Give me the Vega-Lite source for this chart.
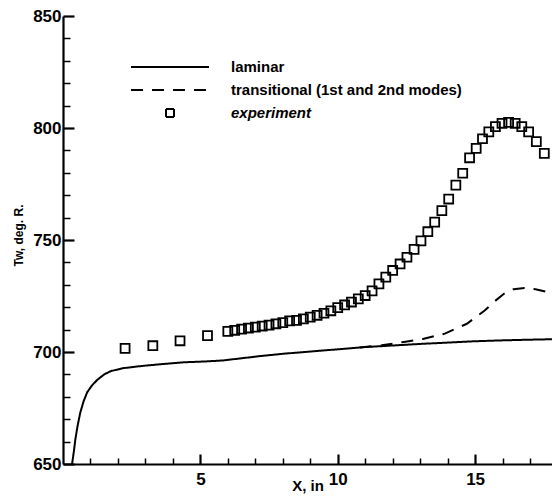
{
  "$schema": "https://vega.github.io/schema/vega-lite/v6.json",
  "width": 489,
  "height": 448,
  "autosize": {"type": "none"},
  "padding": {"left": 63, "top": 16, "right": 0, "bottom": 33},
  "background": "white",
  "config": {"view": {"stroke": null}, "font": "Liberation Sans"},
  "datasets": {
    "lines": [
      {"x": 0.33, "T": 650, "series": "laminar"},
      {"x": 0.4, "T": 656, "series": "laminar"},
      {"x": 0.45, "T": 661, "series": "laminar"},
      {"x": 0.53, "T": 667, "series": "laminar"},
      {"x": 0.63, "T": 673, "series": "laminar"},
      {"x": 0.75, "T": 678, "series": "laminar"},
      {"x": 0.88, "T": 682, "series": "laminar"},
      {"x": 1.05, "T": 685, "series": "laminar"},
      {"x": 1.24, "T": 687.5, "series": "laminar"},
      {"x": 1.5, "T": 690, "series": "laminar"},
      {"x": 1.75, "T": 691.5, "series": "laminar"},
      {"x": 2.2, "T": 692.8, "series": "laminar"},
      {"x": 2.9, "T": 693.8, "series": "laminar"},
      {"x": 3.6, "T": 694.6, "series": "laminar"},
      {"x": 4.4, "T": 695.4, "series": "laminar"},
      {"x": 5.2, "T": 695.8, "series": "laminar"},
      {"x": 5.8, "T": 696.2, "series": "laminar"},
      {"x": 6.5, "T": 697.2, "series": "laminar"},
      {"x": 7.2, "T": 698.2, "series": "laminar"},
      {"x": 8.0, "T": 699.2, "series": "laminar"},
      {"x": 9.0, "T": 700.2, "series": "laminar"},
      {"x": 10.0, "T": 701.2, "series": "laminar"},
      {"x": 11.0, "T": 702.2, "series": "laminar"},
      {"x": 12.0, "T": 702.9, "series": "laminar"},
      {"x": 13.0, "T": 703.6, "series": "laminar"},
      {"x": 14.0, "T": 704.2, "series": "laminar"},
      {"x": 15.0, "T": 704.8, "series": "laminar"},
      {"x": 16.0, "T": 705.2, "series": "laminar"},
      {"x": 17.0, "T": 705.5, "series": "laminar"},
      {"x": 17.8, "T": 705.7, "series": "laminar"},
      {"x": 10.8, "T": 702.0, "series": "transitional (1st and 2nd modes)"},
      {"x": 11.6, "T": 703.0, "series": "transitional (1st and 2nd modes)"},
      {"x": 12.35, "T": 704.4, "series": "transitional (1st and 2nd modes)"},
      {"x": 13.1, "T": 705.8, "series": "transitional (1st and 2nd modes)"},
      {"x": 13.9, "T": 708.2, "series": "transitional (1st and 2nd modes)"},
      {"x": 14.7, "T": 712.6, "series": "transitional (1st and 2nd modes)"},
      {"x": 15.35, "T": 718.5, "series": "transitional (1st and 2nd modes)"},
      {"x": 15.7, "T": 722.5, "series": "transitional (1st and 2nd modes)"},
      {"x": 16.05, "T": 726.0, "series": "transitional (1st and 2nd modes)"},
      {"x": 16.4, "T": 728.0, "series": "transitional (1st and 2nd modes)"},
      {"x": 16.8, "T": 728.6, "series": "transitional (1st and 2nd modes)"},
      {"x": 17.2, "T": 728.0, "series": "transitional (1st and 2nd modes)"},
      {"x": 17.8, "T": 726.3, "series": "transitional (1st and 2nd modes)"}
    ],
    "exp": [
      {"x": 2.26, "T": 701.6}, {"x": 3.27, "T": 702.8}, {"x": 4.26, "T": 705.0}, {"x": 5.26, "T": 707.3},
      {"x": 6.0, "T": 709.2}, {"x": 6.25, "T": 709.7}, {"x": 6.5, "T": 710.2}, {"x": 6.75, "T": 710.7},
      {"x": 7.0, "T": 711.1}, {"x": 7.25, "T": 711.6}, {"x": 7.5, "T": 712.0}, {"x": 7.75, "T": 712.6},
      {"x": 8.0, "T": 713.1}, {"x": 8.25, "T": 713.9}, {"x": 8.5, "T": 714.1}, {"x": 8.75, "T": 714.8},
      {"x": 9.0, "T": 715.6}, {"x": 9.25, "T": 716.4}, {"x": 9.5, "T": 717.3}, {"x": 9.75, "T": 718.4},
      {"x": 10.0, "T": 719.8}, {"x": 10.25, "T": 721.0}, {"x": 10.5, "T": 722.3}, {"x": 10.75, "T": 723.7},
      {"x": 11.0, "T": 725.2}, {"x": 11.25, "T": 727.3}, {"x": 11.5, "T": 730.4}, {"x": 11.75, "T": 733.4},
      {"x": 12.0, "T": 736.4}, {"x": 12.27, "T": 739.3}, {"x": 12.52, "T": 742.3}, {"x": 12.78, "T": 745.8},
      {"x": 13.03, "T": 749.6}, {"x": 13.28, "T": 753.7}, {"x": 13.53, "T": 758.0}, {"x": 13.79, "T": 763.1},
      {"x": 14.04, "T": 768.3}, {"x": 14.3, "T": 774.5}, {"x": 14.55, "T": 779.8}, {"x": 14.8, "T": 786.7},
      {"x": 15.04, "T": 790.9}, {"x": 15.27, "T": 795.2}, {"x": 15.5, "T": 798.3}, {"x": 15.74, "T": 800.6},
      {"x": 15.98, "T": 802.1}, {"x": 16.22, "T": 802.5}, {"x": 16.46, "T": 802.1}, {"x": 16.7, "T": 800.6},
      {"x": 16.95, "T": 798.3}, {"x": 17.23, "T": 793.9}, {"x": 17.52, "T": 788.7}
    ]
  },
  "encoding": {
    "x": {
      "field": "x", "type": "quantitative",
      "scale": {"domain": [0, 17.8], "nice": false, "zero": false},
      "axis": {
        "values": [1,2,3,4,5,6,7,8,9,10,11,12,13,14,15,16,17],
        "labelExpr": "datum.value % 5 === 0 ? datum.label : ''",
        "tickSize": {"condition": {"test": "datum.value % 5 === 0", "value": -10}, "value": -6},
        "tickWidth": {"condition": {"test": "datum.value % 5 === 0", "value": 2.2}, "value": 1.5},
        "tickColor": "black",
        "domainColor": "black",
        "domainWidth": 2.2,
        "grid": false,
        "labelFont": "Liberation Sans",
        "labelFontSize": 17,
        "labelFontWeight": "bold",
        "labelColor": "black",
        "labelPadding": 17,
        "title": "X, in",
        "titleFont": "Liberation Sans",
        "titleFontSize": 15,
        "titleFontWeight": "bold",
        "titleColor": "black",
        "titleBaseline": "alphabetic",
        "titleY": 26
      }
    },
    "y": {
      "field": "T", "type": "quantitative",
      "scale": {"domain": [650, 850], "nice": false, "zero": false},
      "axis": {
        "values": [650,660,670,680,690,700,710,720,730,740,750,760,770,780,790,800,810,820,830,840,850],
        "labelExpr": "datum.value % 50 === 0 ? datum.label : ''",
        "tickSize": {"condition": {"test": "datum.value % 50 === 0", "value": -11}, "value": -7},
        "tickWidth": {"condition": {"test": "datum.value % 50 === 0", "value": 2.2}, "value": 1.5},
        "tickColor": "black",
        "domainColor": "black",
        "domainWidth": 2.2,
        "grid": false,
        "labelFont": "Liberation Sans",
        "labelFontSize": 17,
        "labelFontWeight": "bold",
        "labelColor": "black",
        "labelPadding": 13,
        "title": "Tw, deg. R.",
        "titleFont": "Liberation Sans",
        "titleFontSize": 12,
        "titleFontWeight": "bold",
        "titleColor": "black",
        "titleAngle": 270,
        "titleBaseline": "middle",
        "titleX": -45,
        "titleY": 219
      }
    }
  },
  "layer": [
    {
      "data": {"name": "lines"},
      "mark": {"type": "line", "color": "black", "strokeWidth": 2, "clip": true},
      "encoding": {
        "strokeDash": {
          "field": "series", "type": "nominal",
          "scale": {
            "domain": ["laminar", "transitional (1st and 2nd modes)", "experiment"],
            "range": [[1, 0], [12, 9], [1, 0]]
          },
          "legend": {
            "title": null,
            "orient": "none",
            "legendX": 67,
            "legendY": 41,
            "padding": 0,
            "symbolType": "stroke",
            "symbolSize": 6084,
            "symbolStrokeWidth": 2,
            "symbolStrokeColor": "black",
            "clipHeight": 20,
            "rowPadding": 3,
            "labelOffset": 21,
            "labelFont": "Liberation Sans",
            "labelFontSize": 15,
            "labelFontWeight": "bold",
            "labelColor": "black",
            "labelLimit": 400,
            "encode": {
              "symbols": {
                "update": {
                  "shape": {"signal": "datum.value === 'experiment' ? 'square' : 'stroke'"},
                  "size": {"signal": "datum.value === 'experiment' ? 64 : 6084"},
                  "stroke": {"value": "black"},
                  "strokeWidth": {"value": 2},
                  "fill": {"value": "transparent"}
                }
              },
              "labels": {
                "update": {
                  "fontStyle": {"signal": "datum.value === 'experiment' ? 'italic' : 'normal'"}
                }
              }
            }
          }
        }
      }
    },
    {
      "data": {"name": "exp"},
      "mark": {"type": "point", "shape": "square", "filled": false, "color": "black", "size": 80, "strokeWidth": 1.8, "opacity": 1, "clip": true}
    }
  ]
}
